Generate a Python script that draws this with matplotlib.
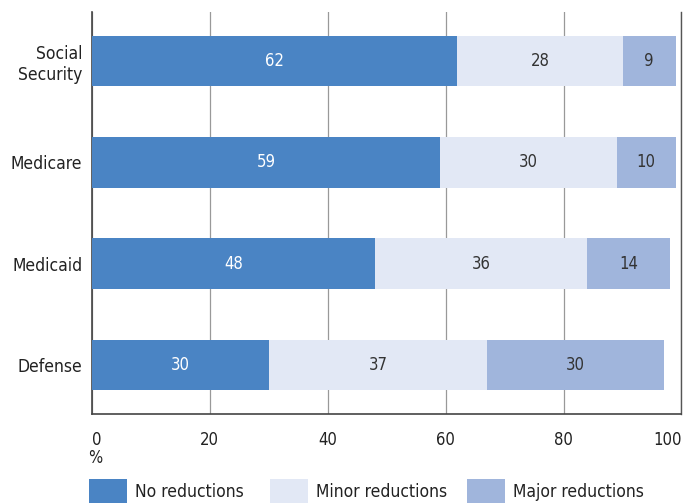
import matplotlib
matplotlib.use("Agg")
import matplotlib.pyplot as plt
from matplotlib.patches import Rectangle
import numpy as np

plt.rcParams['font.family'] = ['DejaVu Sans']
plt.rcParams['font.stretch'] = 'condensed'

# data (percent)
categories = ["Social\nSecurity", "Medicare", "Medicaid", "Defense"]
no_red = [62, 59, 48, 30]
minor_red = [28, 30, 36, 37]
major_red = [9, 10, 14, 30]
series_names = ["No reductions", "Minor reductions", "Major reductions"]
colors = ["#4a84c4", "#e2e8f5", "#a0b5dc"]
text_colors = ["white", "#333333", "#333333"]

fig = plt.figure(figsize=(6.86, 5.03), dpi=100)
ax = fig.add_axes([0.134, 0.177, 0.8594, 0.799])

y = np.arange(len(categories))
left = np.zeros(len(categories))
for vals, name, col, tcol in zip([no_red, minor_red, major_red], series_names, colors, text_colors):
    ax.barh(y, vals, left=left, height=0.5, color=col, label=name, zorder=3)
    for yi, v, l in zip(y, vals, left):
        ax.text(l + v / 2, yi, str(v), ha="center", va="center", color=tcol, fontsize=12, zorder=4)
    left = left + np.array(vals)

ax.set_xlim(0, 100)
ax.set_ylim(len(categories) - 0.515, -0.485)
ax.set_yticks(y)
ax.set_yticklabels(categories, fontsize=12.5, color="#222222", ha="right")
ax.set_xticks(np.arange(0, 101, 20))
ax.set_xticklabels([str(t) for t in range(0, 101, 20)], fontsize=12, color="#222222")
ax.get_xticklabels()[-1].set_ha("right")
ax.get_xticklabels()[0].set_ha("left")
ax.tick_params(length=0, pad=12)
ax.tick_params(axis="y", pad=7)
ax.grid(axis="x", color="#999999", linewidth=0.9, zorder=0)
ax.grid(axis="y", visible=False)
ax.spines["top"].set_visible(False)
ax.spines["right"].set_color("#555555")
ax.spines["right"].set_linewidth(1.0)
for s in ["left", "bottom"]:
    ax.spines[s].set_color("#444444")
    ax.spines[s].set_linewidth(1.2)

fig.text(0.129, 0.09, "%", fontsize=12, color="#222222", ha="left", va="center")

# legend drawn by hand: square swatch + label
leg_x = [0.130, 0.394, 0.681]
for lx, name, col in zip(leg_x, series_names, colors):
    fig.patches.append(Rectangle((lx, -0.01), 0.055, 0.057, transform=fig.transFigure,
                                 facecolor=col, edgecolor="none"))
    fig.text(lx + 0.067, 0.022, name, fontsize=12.5, color="#222222", ha="left", va="center")

fig.savefig("out.png", dpi=100)
